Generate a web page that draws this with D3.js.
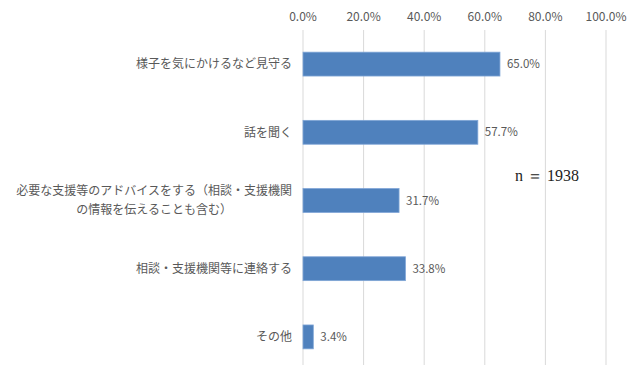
<!DOCTYPE html>
<meta charset="utf-8">
<style>
body { margin: 0; background: #fff; }
.grid line { stroke: #d9d9d9; stroke-width: 1; }
.tick-label, .cat-label, .val-label {
  font-family: "Noto Sans CJK JP", sans-serif;
  fill: #595959;
}
.tick-label { font-size: 12px; }
.cat-label { font-size: 12px; }
.val-label { font-size: 11.5px; }
.bar { fill: #4f81bd; stroke: #7fa5d6; stroke-width: 0.8; }
.n-label { font-family: "Liberation Serif", serif; font-size: 16px; fill: #222; }
</style>
<svg id="chart" width="640" height="365"></svg>
<script src="https://d3js.org/d3.v7.min.js"></script>
<script>

var categories = [
  ["様子を気にかけるなど見守る"],
  ["話を聞く"],
  ["必要な支援等のアドバイスをする（相談・支援機関", "の情報を伝えることも含む）"],
  ["相談・支援機関等に連絡する"],
  ["その他"]
];
var values = [65.0, 57.7, 31.7, 33.8, 3.4];
var ticks = [0, 20, 40, 60, 80, 100];
var sampleSize = "n ＝ 1938";

var svg = d3.select("#chart");

var x = d3.scaleLinear().domain([0, 100]).range([303, 606]);
var y = d3.scaleBand().domain(d3.range(values.length)).range([30, 371]).paddingInner(0.65).paddingOuter(0.325);

// gridlines
svg.append("g").attr("class", "grid")
  .selectAll("line")
  .data(ticks)
  .enter().append("line")
  .attr("x1", function(d) { return x(d); })
  .attr("x2", function(d) { return x(d); })
  .attr("y1", 30)
  .attr("y2", 365);

// tick labels on top
svg.append("g")
  .selectAll("text")
  .data(ticks)
  .enter().append("text")
  .attr("class", "tick-label")
  .attr("x", function(d) { return x(d); })
  .attr("y", 21)
  .attr("text-anchor", "middle")
  .text(function(d) { return d.toFixed(1) + "%"; });

// bars
svg.append("g")
  .selectAll("rect")
  .data(values)
  .enter().append("rect")
  .attr("class", "bar")
  .attr("x", x(0))
  .attr("y", function(d, i) { return y(i); })
  .attr("width", function(d) { return x(d) - x(0); })
  .attr("height", y.bandwidth());

// value labels
svg.append("g")
  .selectAll("text")
  .data(values)
  .enter().append("text")
  .attr("class", "val-label")
  .attr("x", function(d) { return x(d) + 7; })
  .attr("y", function(d, i) { return y(i) + y.bandwidth() / 2; })
  .attr("dy", "0.35em")
  .text(function(d) { return d.toFixed(1) + "%"; });

// category labels (multi-line ones are centred on the longest line)
var labelRight = 292;
svg.append("g")
  .selectAll("g")
  .data(categories)
  .enter().append("g")
  .each(function(lines, i) {
    var g = d3.select(this);
    var cy = y(i) + y.bandwidth() / 2 - (lines.length - 1) * 9.5;
    var texts = lines.map(function(line, j) {
      return g.append("text")
        .attr("class", "cat-label")
        .attr("y", cy + j * 19)
        .attr("dy", "0.35em")
        .text(line);
    });
    var widths = texts.map(function(t) { return t.node().getComputedTextLength(); });
    var maxW = d3.max(widths);
    var centre = labelRight - maxW / 2;
    texts.forEach(function(t) {
      t.attr("x", centre).attr("text-anchor", "middle");
    });
  });

svg.append("text")
  .attr("class", "n-label")
  .attr("x", 515)
  .attr("y", 181)
  .text(sampleSize);

</script>
